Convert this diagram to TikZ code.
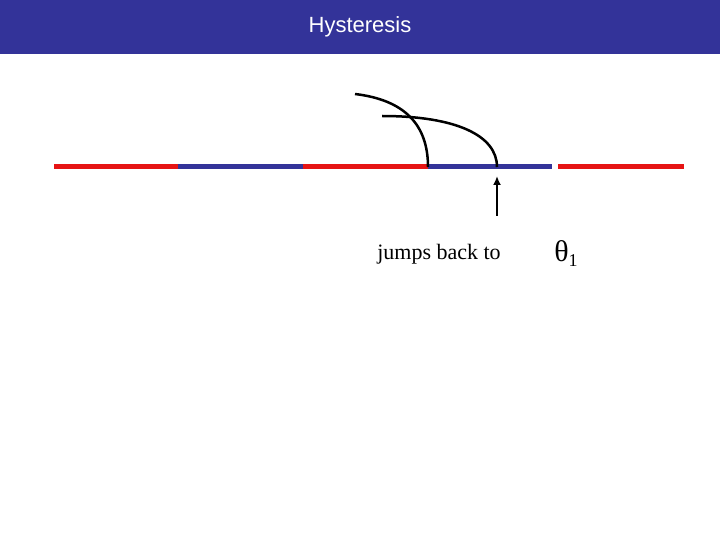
\documentclass[tikz,border=0pt]{standalone}
\usepackage{fontspec}
\usetikzlibrary{arrows.meta}
\setmainfont{Liberation Serif}
\newfontfamily\hdr{Liberation Sans}
\definecolor{bar}{RGB}{51,51,153}
\definecolor{rd}{RGB}{230,20,20}
\definecolor{bl}{RGB}{51,51,153}
\begin{document}
\begin{tikzpicture}[x=1pt,y=-1pt,
  seg/.style={line width=5pt},
  crv/.style={line width=2.5pt,black}]
\useasboundingbox (0,0) rectangle (720,540);
\fill[bar] (0,0) rectangle (720,54);
\node[text=white,font=\hdr\fontsize{22}{26}\selectfont] (title) at (360,27) {Hysteresis};
\coordinate (p0) at (54,167); \coordinate (p1) at (178,167);
\coordinate (p2) at (303,167); \coordinate (p3) at (428,167);
\coordinate (p4) at (497,167); \coordinate (p5) at (552,167);
\coordinate (p6) at (558,167); \coordinate (p7) at (684,167);
\draw[seg,rd] (p0) -- (p1);
\draw[seg,bl] (p1) -- (p2);
\draw[seg,rd] (p2) -- (p3);
\draw[seg,bl] (p3) -- (p5);
\draw[seg,rd] (p6) -- (p7);
\coordinate (c1) at (355,94); \coordinate (c2) at (382,116);
\draw[crv] (c1) .. controls (405,100) and (428,125) .. (p3);
\draw[crv] (c2) .. controls (455,116) and (497,135) .. (p4);
\coordinate (a0) at (497,216); \coordinate (a1) at (497,176);
\draw[line width=2.5pt,-{Latex[length=9pt,width=8pt]}] (a0) -- (a1);
\node[font=\fontsize{22}{26}\selectfont] (txt) at (439,254) {jumps back to};
\node[font=\fontsize{30}{34}\selectfont] (th) at (566,254) {θ\raisebox{-5pt}{\fontsize{18}{20}\selectfont 1}};
\end{tikzpicture}
\end{document}
